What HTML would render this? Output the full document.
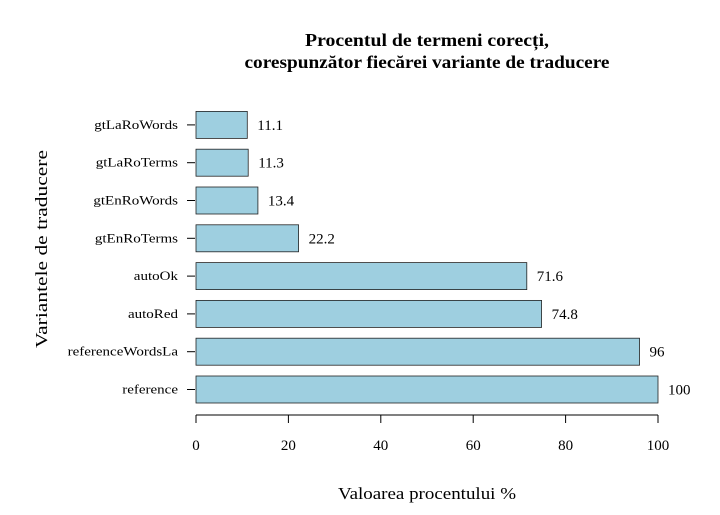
<!DOCTYPE html>
<html><head><meta charset="utf-8"><style>
body{margin:0;background:#fff;}
svg{display:block;font-family:"Liberation Serif",serif;}
</style></head><body>
<svg id="chart" width="720" height="515">
<text x="427" y="46" text-anchor="middle" font-size="18" font-weight="bold" textLength="244" lengthAdjust="spacingAndGlyphs">Procentul de termeni corecți,</text>
<text x="427" y="68" text-anchor="middle" font-size="18" font-weight="bold" textLength="365" lengthAdjust="spacingAndGlyphs">corespunzător fiecărei variante de traducere</text>
<text x="427" y="499" text-anchor="middle" font-size="17" textLength="178" lengthAdjust="spacingAndGlyphs">Valoarea procentului %</text>
<text transform="translate(47,249) rotate(-90)" text-anchor="middle" font-size="17" textLength="198" lengthAdjust="spacingAndGlyphs">Variantele de traducere</text>
<g id="bars"></g><g id="axis"></g>
</svg>
<script>
const categories=["reference","referenceWordsLa","autoRed","autoOk","gtEnRoTerms","gtEnRoWords","gtLaRoTerms","gtLaRoWords"];
const values=[100,96,74.8,71.6,22.2,13.4,11.3,11.1];
const valueLabels=["100","96","74.8","71.6","22.2","13.4","11.3","11.1"];
const xTicks=[0,20,40,60,80,100];
const NS="http://www.w3.org/2000/svg";
const x=v=>196+v*4.62;
const yc=i=>389.5-i*37.8;
const bars=document.getElementById('bars'),axis=document.getElementById('axis');
function mk(tag,attrs,parent){const e=document.createElementNS(NS,tag);for(const k in attrs)e.setAttribute(k,attrs[k]);parent.appendChild(e);return e;}
categories.forEach((c,i)=>{
 const r=mk('rect',{x:x(0),y:yc(i)-13.5,width:x(values[i])-x(0),height:27,fill:'#9ecfe0',stroke:'#222','stroke-width':0.8},bars);
 
 
 const t=mk('text',{x:x(values[i])+10,y:yc(i)+5,'font-size':15},bars);t.textContent=valueLabels[i];
 
 
 const tk=mk('line',{x1:187,x2:195,y1:yc(i),y2:yc(i),stroke:'#000'},axis);
 
 
 const l=mk('text',{x:178,y:yc(i)+4,'text-anchor':'end','font-size':12.5},axis);l.textContent=c;
 const w=l.getComputedTextLength();
 l.setAttribute('textLength',w*1.2);
 l.setAttribute('lengthAdjust','spacingAndGlyphs');
 
 
});
const al=mk('line',{x1:x(0),x2:x(100),y1:415,y2:415,stroke:'#000'},axis);


xTicks.forEach(v=>{
 const tk=mk('line',{x1:x(v),x2:x(v),y1:415,y2:423,stroke:'#000'},axis);
 
 
 const t=mk('text',{x:x(v),y:450,'text-anchor':'middle','font-size':15},axis);t.textContent=v;
 
 
});
</script>
</body></html>
